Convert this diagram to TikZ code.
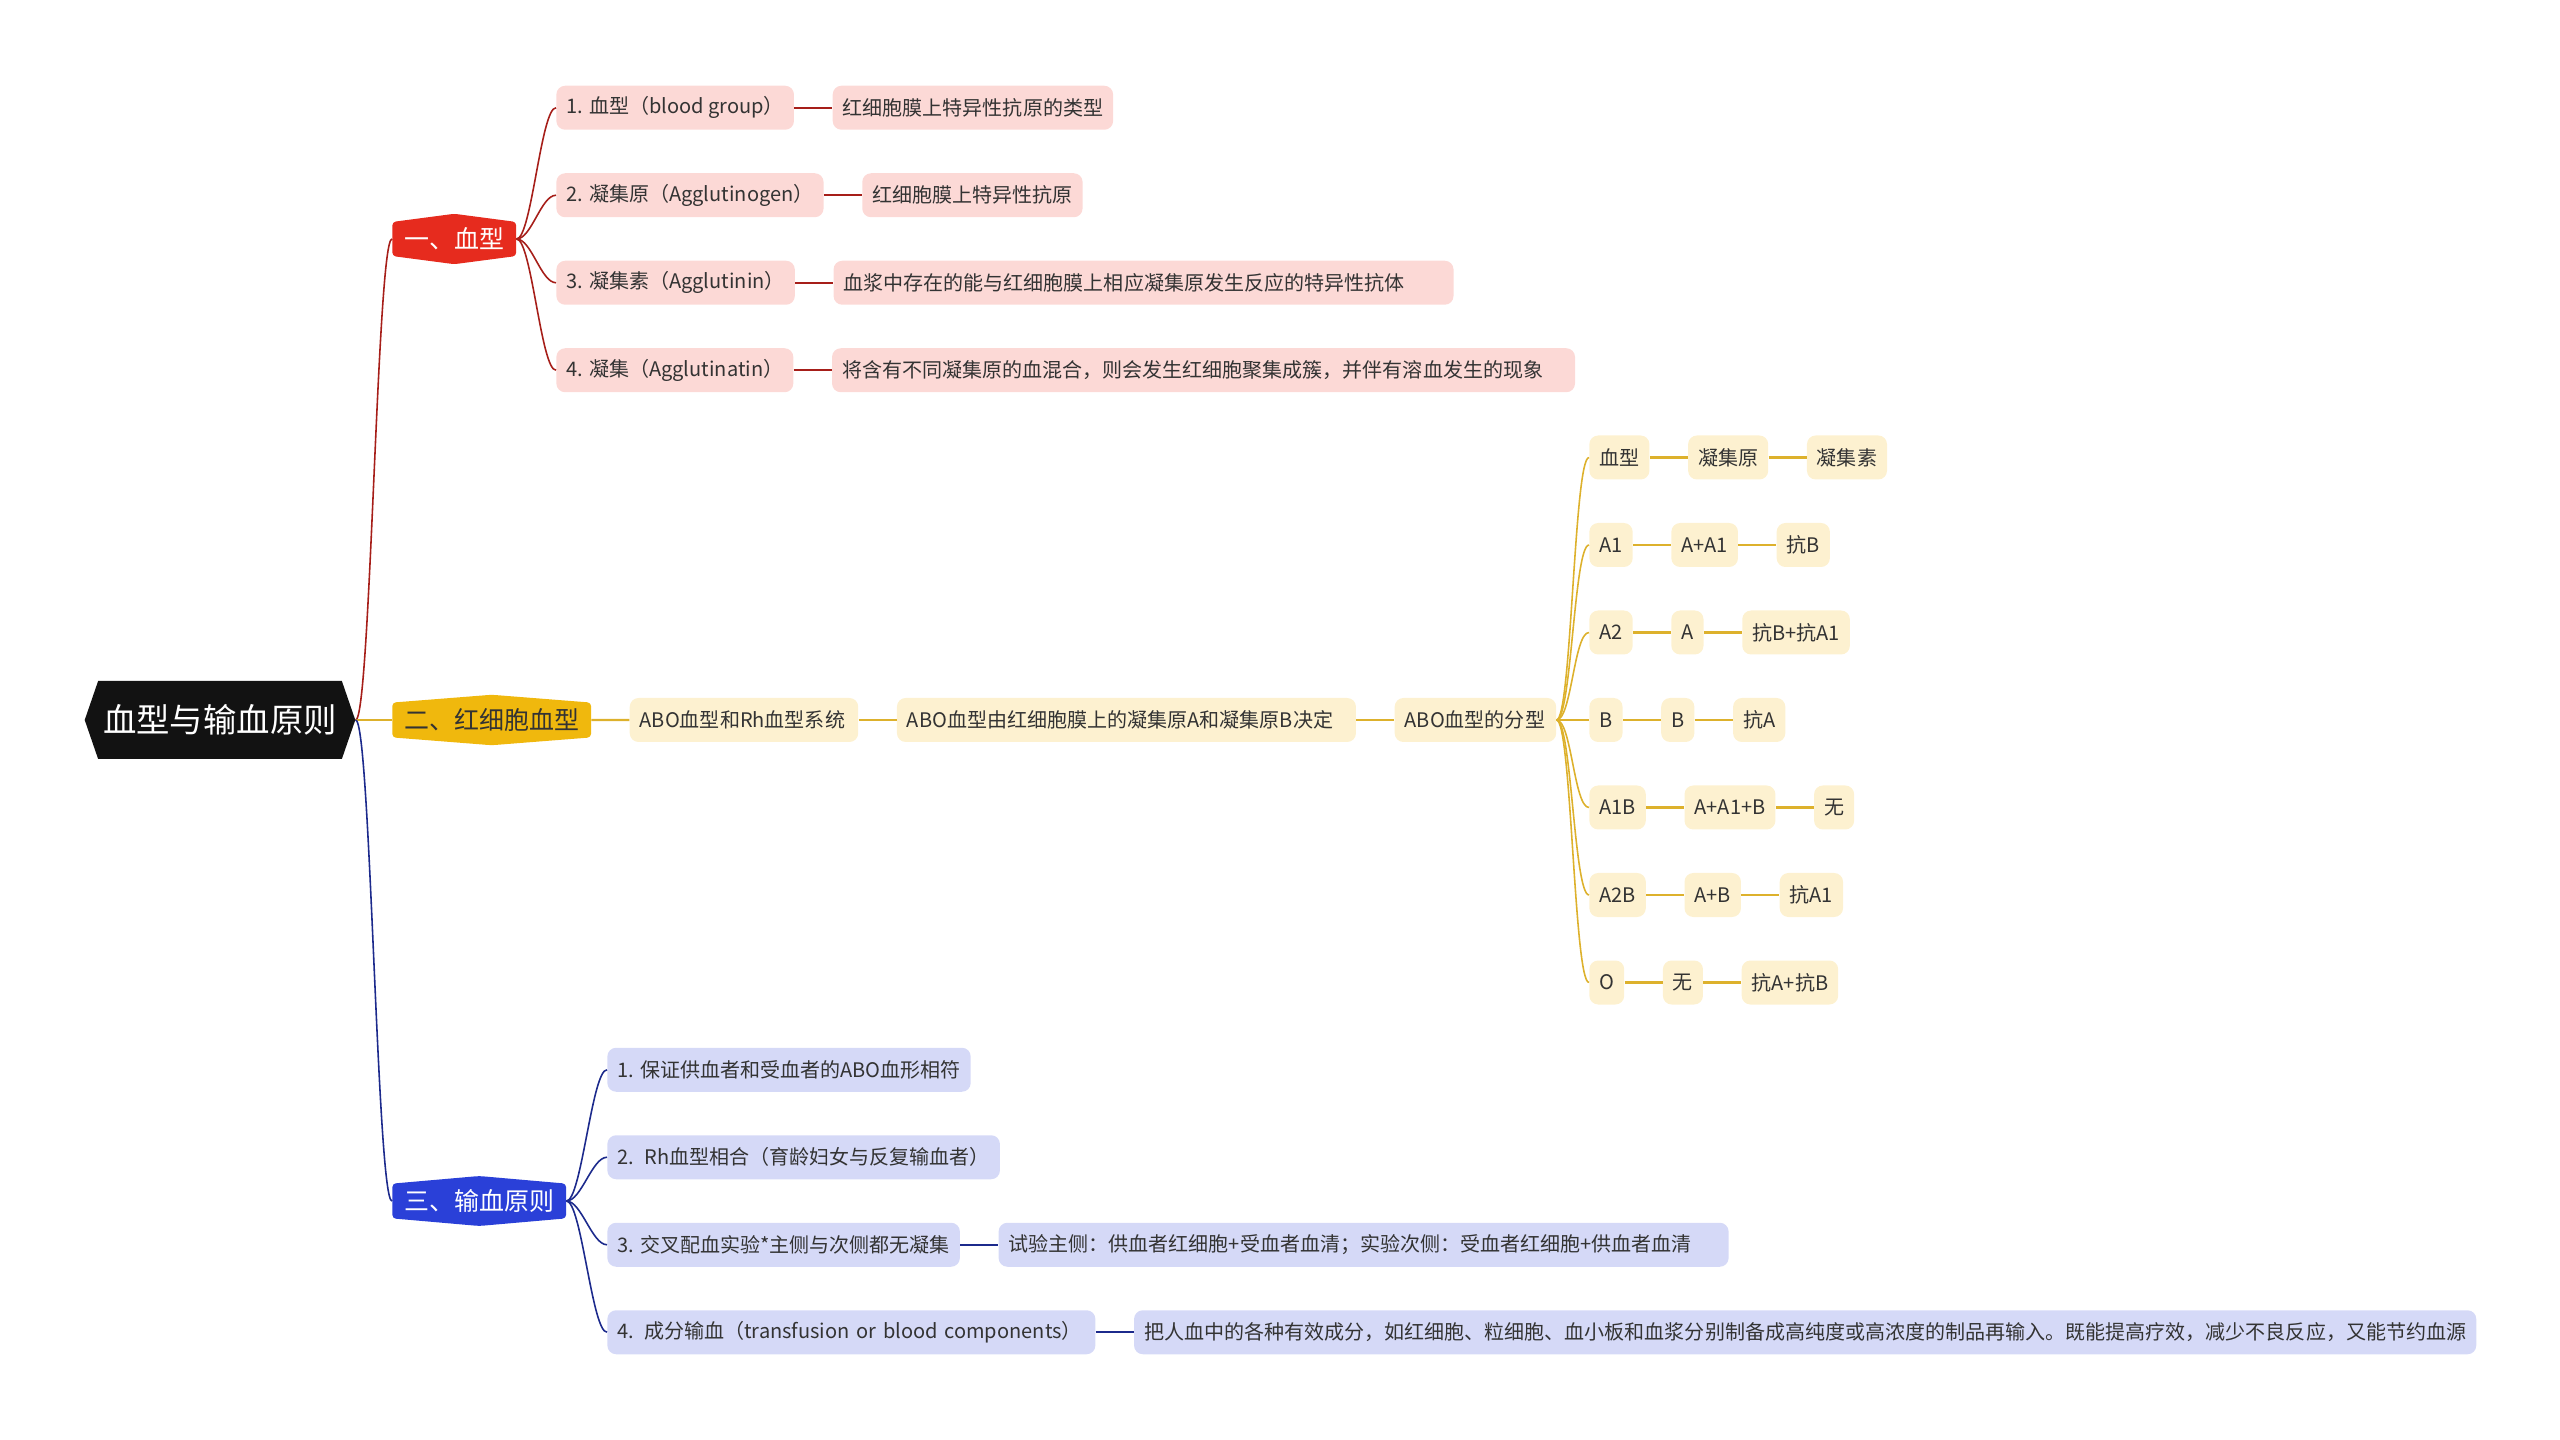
\documentclass[tikz,border=0pt]{standalone}
\usepackage{fontspec}
\setmainfont{Noto Sans CJK SC}
\usetikzlibrary{positioning, shapes.symbols}

\definecolor{redmain}{HTML}{E62B1E}
\definecolor{redline}{HTML}{A61E19}
\definecolor{redleaf}{HTML}{FCD9D6}
\definecolor{yelmain}{HTML}{F0B80D}
\definecolor{yelline}{HTML}{DDB12C}
\definecolor{yelleaf}{HTML}{FDF1D0}
\definecolor{bluemain}{HTML}{2A40D8}
\definecolor{blueline}{HTML}{1C2A8C}
\definecolor{blueleaf}{HTML}{D5D9F7}
\definecolor{leaftext}{HTML}{333333}

\begin{document}
\begin{tikzpicture}[
      x=0.2mm, y=-0.2mm,
      node distance=7.6mm,
      root/.style={signal, signal to=west and east, signal pointer angle=142, fill=black!93, text=white,
        font=\fontsize{19pt}{22pt}\selectfont, inner xsep=1mm, minimum height=15.6mm},
      branch/.style={signal, signal to=north and south, fill=#1, rounded corners=2pt, text=white,
        font=\fontsize{14.2pt}{17pt}\selectfont, inner xsep=2.4mm, minimum height=8.6mm},
      leaf/.style={fill=#1, rounded corners=5pt, text=leaftext, inner xsep=2mm, minimum height=8.8mm,
        font=\fontsize{11.4pt}{14pt}\selectfont},
      wide/.style={text width=#1, align=left},
      link/.style={draw=#1, line width=0.9pt},
      bar/.style={draw=#1, line width=1.3pt}
    ]
    \useasboundingbox (0,0) rectangle (2560,1440);

    % centre and branches
    \node[root] (root) at (220,720) {血型与输血原则};
    \node[branch=redmain, signal pointer angle=165, anchor=west] (blood) at (392,239) {一、血型};
    \node[branch=yelmain, signal pointer angle=171, text=leaftext, anchor=west] (cell) at (392,720) {二、红细胞血型};
    \node[branch=bluemain, signal pointer angle=170, anchor=west] (trans) at (392,1201) {三、输血原则};

    \draw[link=redline] (root.east) .. controls +(3mm,0) and +(-3mm,0) .. (blood.west);
    \draw[bar=yelline] (root.east) -- (cell.west);
    \draw[link=blueline] (root.east) .. controls +(3mm,0) and +(-3mm,0) .. (trans.west);

    % 一、血型
    \node[leaf=redleaf, anchor=west] (group) at (556,107.75) {1. 血型（blood group）};
    \node[leaf=redleaf, right=of group] (groupd) {红细胞膜上特异性抗原的类型};
    \node[leaf=redleaf, anchor=west] (agen) at (556,195.25) {2. 凝集原（Agglutinogen）};
    \node[leaf=redleaf, right=of agen] (agend) {红细胞膜上特异性抗原};
    \node[leaf=redleaf, anchor=west] (anin) at (556,282.75) {3. 凝集素（Agglutinin）};
    \node[leaf=redleaf, right=of anin, wide=120mm] (anind) {血浆中存在的能与红细胞膜上相应凝集原发生反应的特异性抗体};
    \node[leaf=redleaf, anchor=west] (atin) at (556,370.25) {4. 凝集（Agglutinatin）};
    \node[leaf=redleaf, right=of atin, wide=144.6mm] (atind) {将含有不同凝集原的血混合，则会发生红细胞聚集成簇，并伴有溶血发生的现象};

    \foreach \n in {group, agen, anin, atin} {
      \draw[link=redline] (blood.east) .. controls +(3mm,0) and +(-3mm,0) .. (\n.west);
      \draw[bar=redline] (\n) -- (\n d);
    }

    % 二、红细胞血型
    \node[leaf=yelleaf, right=of cell, wide=41.7mm] (abosys) {ABO血型和Rh血型系统};
    \node[leaf=yelleaf, right=of abosys, wide=87.8mm] (abodef) {ABO血型由红细胞膜上的凝集原A和凝集原B决定};
    \node[leaf=yelleaf, right=of abodef, wide=28.3mm] (abotype) {ABO血型的分型};
    \draw[bar=yelline] (cell) -- (abosys);
    \draw[bar=yelline] (abosys) -- (abodef);
    \draw[bar=yelline] (abodef) -- (abotype);

    \foreach \a/\b/\c [count=\i from 0] in {血型/凝集原/凝集素, A1/A+A1/抗B, A2/A/抗B+抗A1,
        B/B/抗A, A1B/A+A1+B/无, A2B/A+B/抗A1, O/无/抗A+抗B} {
      \node[leaf=yelleaf, anchor=west] (t\i a) at (1589,{720+(\i-3)*87.5}) {\a};
      \node[leaf=yelleaf, right=of t\i a] (t\i b) {\b};
      \node[leaf=yelleaf, right=of t\i b] (t\i c) {\c};
      \draw[link=yelline] (abotype.east) .. controls +(3mm,0) and +(-3mm,0) .. (t\i a.west);
      \draw[bar=yelline] (t\i a) -- (t\i b);
      \draw[bar=yelline] (t\i b) -- (t\i c);
    }

    % 三、输血原则
    \node[leaf=blueleaf, anchor=west] (match) at (607,1069.75) {1. 保证供血者和受血者的ABO血形相符};
    \node[leaf=blueleaf, anchor=west] (rh) at (607,1157.25) {2.~ Rh血型相合（育龄妇女与反复输血者）};
    \node[leaf=blueleaf, anchor=west] (cross) at (607,1244.75) {3. 交叉配血实验*主侧与次侧都无凝集};
    \node[leaf=blueleaf, right=of cross, wide=142mm] (crossd) {试验主侧：供血者红细胞+受血者血清；实验次侧：受血者红细胞+供血者血清};
    \node[leaf=blueleaf, anchor=west, wide=93.6mm] (part) at (607,1332.25) {4. 成分输血（transfusion or blood components）};
    \node[leaf=blueleaf, right=of part] (partd) {把人血中的各种有效成分，如红细胞、粒细胞、血小板和血浆分别制备成高纯度或高浓度的制品再输入。既能提高疗效，减少不良反应，又能节约血源};

    \foreach \n in {match, rh, cross, part}
      \draw[link=blueline] (trans.east) .. controls +(3mm,0) and +(-3mm,0) .. (\n.west);
    \draw[bar=blueline] (cross) -- (crossd);
    \draw[bar=blueline] (part) -- (partd);
  \end{tikzpicture}
\end{document}
